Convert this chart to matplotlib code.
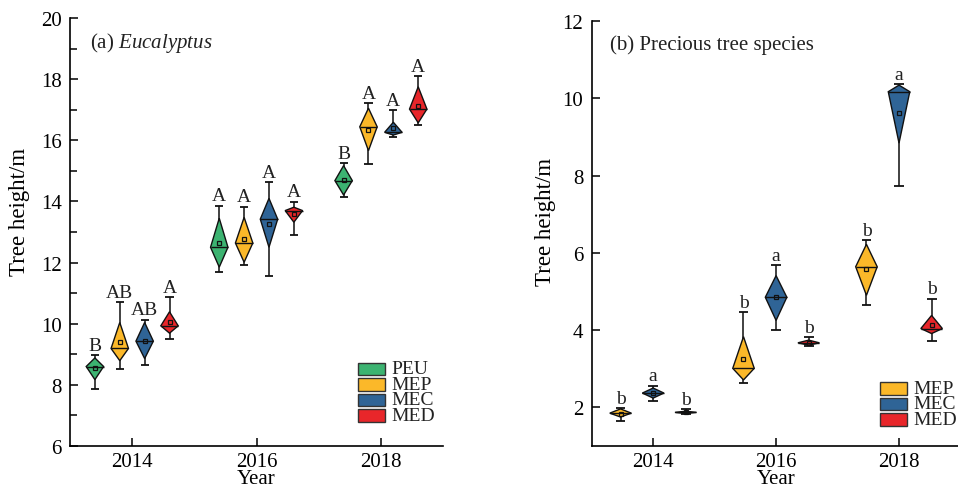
import matplotlib
matplotlib.use("Agg")
import matplotlib.pyplot as plt
from matplotlib.patches import Polygon, Rectangle
import numpy as np

plt.rcParams["font.family"] = ["Liberation Serif", "DejaVu Serif"]
plt.rcParams["mathtext.fontset"] = "custom"
plt.rcParams["mathtext.rm"] = "Liberation Serif"
plt.rcParams["mathtext.it"] = "Liberation Serif:italic"

years = [2014, 2016, 2018]

# panel (a) Eucalyptus, one row per year: whisker low, q1, median, q3, whisker high, mean
a_groups = ["PEU", "MEP", "MEC", "MED"]
a_peu = [[7.86, 8.17, 8.60, 8.88, 8.97, 8.54],
         [11.68, 11.85, 12.50, 13.45, 13.86, 12.64],
         [14.16, 14.21, 14.68, 15.17, 15.26, 14.71]]
a_mep = [[8.51, 8.79, 9.19, 10.04, 10.71, 9.41],
         [11.92, 12.01, 12.64, 13.48, 13.83, 12.77],
         [15.23, 15.66, 16.44, 17.05, 17.21, 16.34]]
a_mec = [[8.64, 8.86, 9.43, 10.04, 10.13, 9.42],
         [11.57, 12.50, 13.42, 14.10, 14.63, 13.27],
         [16.11, 16.17, 16.26, 16.59, 16.99, 16.39]]
a_med = [[9.49, 9.69, 9.93, 10.39, 10.87, 10.04],
         [12.89, 13.32, 13.70, 13.81, 13.99, 13.58],
         [16.51, 16.57, 17.02, 17.75, 18.09, 17.11]]
a_letters = [["B", "A", "B"], ["AB", "A", "A"], ["AB", "A", "A"], ["A", "A", "A"]]

# panel (b) precious tree species
b_groups = ["MEP", "MEC", "MED"]
b_mep = [[1.64, 1.75, 1.85, 1.96, 1.98, 1.83],
         [2.62, 2.71, 3.01, 3.83, 4.47, 3.26],
         [4.64, 4.90, 5.64, 6.22, 6.33, 5.58]]
b_mec = [[2.17, 2.24, 2.37, 2.50, 2.56, 2.37],
         [4.01, 4.25, 4.85, 5.41, 5.68, 4.85],
         [7.72, 8.84, 10.17, 10.34, 10.36, 9.63]]
b_med = [[1.83, 1.84, 1.87, 1.90, 1.96, 1.87],
         [3.60, 3.61, 3.67, 3.74, 3.81, 3.67],
         [3.72, 3.91, 4.04, 4.38, 4.81, 4.12]]
b_letters = [["b", "b", "b"], ["a", "a", "a"], ["b", "b", "b"]]

colors = {"PEU": "#3cb371", "MEP": "#fbb829", "MEC": "#2f6496", "MED": "#e8262a"}


def diamond_box(ax, x, stats, color, width, cap, letter):
    lo, q1, med, q3, hi, mean = stats
    ax.vlines(x, lo, hi, color="#333333", lw=1.3, zorder=1)
    ax.hlines([lo, hi], x - cap / 2, x + cap / 2, color="#111111", lw=1.3, zorder=1)
    pts = [(x, q3), (x + width / 2, med), (x, q1), (x - width / 2, med)]
    ax.add_patch(Polygon(pts, closed=True, facecolor=color, edgecolor="#111111",
                         lw=1.0, zorder=2))
    ax.hlines(med, x - width / 2, x + width / 2, color="#111111", lw=1.0, zorder=3)
    ax.plot(x, mean, "s", ms=3.5, mfc="none", mec="#111111", mew=0.9, zorder=4)
    ax.annotate(letter, (x, hi), xytext=(0, 1), textcoords="offset points",
                ha="center", va="bottom", fontsize=14, color="#222222")


def style_axes(ax, ylim, yticks):
    ax.set_xlim(2013, 2019)
    ax.set_ylim(*ylim)
    ax.set_xticks(years)
    ax.set_yticks(yticks)
    ax.set_yticks(np.arange(ylim[0] + 1, ylim[1], 2), minor=True)
    for s in ["top", "right"]:
        ax.spines[s].set_visible(False)
    for s in ["left", "bottom"]:
        ax.spines[s].set_linewidth(1.2)
    ax.tick_params(direction="in", length=5.5, width=1.1, labelsize=15, pad=6)
    ax.tick_params(axis="x", pad=4)
    ax.tick_params(which="minor", direction="in", length=5, width=1.1)
    ax.set_xlabel("Year", fontsize=15, labelpad=-1)
    ax.set_ylabel("Tree height/m", fontsize=16.5)


def legend_boxes(ax, names, x0, y0):
    for i, name in enumerate(names):
        y = y0 - i * 0.0365
        ax.add_patch(Rectangle((x0, y), 0.073, 0.029, transform=ax.transAxes,
                               facecolor=colors[name], edgecolor="#333333", lw=1.0,
                               clip_on=False))
        ax.text(x0 + 0.09, y + 0.0145, name, transform=ax.transAxes, fontsize=14,
                va="center", ha="left", color="#222222")


fig = plt.figure(figsize=(9.58, 4.89), dpi=100)
ax1 = fig.add_axes([0.0731, 0.0859, 0.3894, 0.8753])
ax2 = fig.add_axes([0.6176, 0.0859, 0.385, 0.8691])

a_data = [a_peu, a_mep, a_mec, a_med]
a_offsets = [-0.6, -0.2, 0.2, 0.6]
for g, name in enumerate(a_groups):
    for j, yr in enumerate(years):
        diamond_box(ax1, yr + a_offsets[g], a_data[g][j], colors[name], 0.28, 0.13,
                    a_letters[g][j])

b_data = [b_mep, b_mec, b_med]
b_offsets = [-0.53, 0.0, 0.53]
for g, name in enumerate(b_groups):
    for j, yr in enumerate(years):
        diamond_box(ax2, yr + b_offsets[g], b_data[g][j], colors[name], 0.35, 0.16,
                    b_letters[g][j])

style_axes(ax1, (6, 20), np.arange(6, 21, 2))
style_axes(ax2, (1, 12), np.arange(2, 13, 2))
ax1.yaxis.set_label_coords(-0.108, 0.55)
ax2.yaxis.set_label_coords(-0.097, 0.53)

ax1.text(0.054, 0.943, r"(a) $\it{Eucalyptus}$", transform=ax1.transAxes,
         fontsize=15, va="center", ha="left", color="#222222")
ax2.text(0.05, 0.946, "(b) Precious tree species", transform=ax2.transAxes,
         fontsize=15, va="center", ha="left", color="#222222")

legend_boxes(ax1, a_groups, 0.772, 0.166)
legend_boxes(ax2, b_groups, 0.782, 0.121)

fig.savefig("out.png", dpi=100)
